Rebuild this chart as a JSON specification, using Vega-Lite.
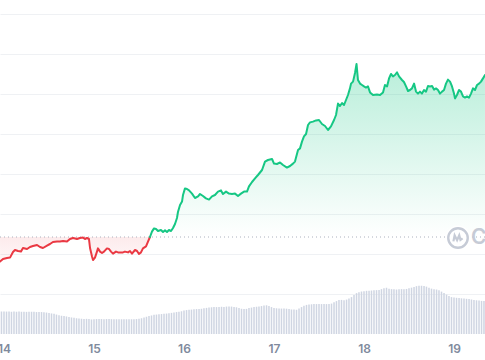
{
  "$schema": "https://vega.github.io/schema/vega-lite/v6.json",
  "width": 485,
  "height": 334,
  "autosize": {"type": "none"},
  "padding": {"left": 0, "right": 0, "top": 0, "bottom": 26},
  "background": "#ffffff",
  "config": {"view": {"stroke": null}},
  "datasets": {
    "price": [
      {"d":13.956,"p":1.81,"s":"down"},{"d":13.989,"p":1.875,"s":"down"},{"d":14.033,"p":1.90,"s":"down"},{"d":14.067,"p":1.91,"s":"down"},
      {"d":14.100,"p":2.05,"s":"down"},{"d":14.122,"p":2.10,"s":"down"},{"d":14.156,"p":2.075,"s":"down"},{"d":14.189,"p":2.06,"s":"down"},
      {"d":14.211,"p":2.15,"s":"down"},{"d":14.256,"p":2.125,"s":"down"},{"d":14.289,"p":2.175,"s":"down"},{"d":14.322,"p":2.20,"s":"down"},
      {"d":14.367,"p":2.225,"s":"down"},{"d":14.400,"p":2.175,"s":"down"},{"d":14.433,"p":2.15,"s":"down"},{"d":14.478,"p":2.21,"s":"down"},
      {"d":14.511,"p":2.25,"s":"down"},{"d":14.544,"p":2.30,"s":"down"},{"d":14.589,"p":2.31,"s":"down"},{"d":14.622,"p":2.31,"s":"down"},
      {"d":14.656,"p":2.325,"s":"down"},{"d":14.700,"p":2.31,"s":"down"},{"d":14.733,"p":2.375,"s":"down"},{"d":14.767,"p":2.40,"s":"down"},
      {"d":14.811,"p":2.375,"s":"down"},{"d":14.844,"p":2.40,"s":"down"},{"d":14.878,"p":2.41,"s":"down"},{"d":14.900,"p":2.375,"s":"down"},
      {"d":14.922,"p":2.40,"s":"down"},{"d":14.944,"p":2.375,"s":"down"},{"d":14.956,"p":2.15,"s":"down"},{"d":14.978,"p":1.94,"s":"down"},
      {"d":14.989,"p":1.85,"s":"down"},{"d":15.011,"p":1.91,"s":"down"},{"d":15.033,"p":2.06,"s":"down"},{"d":15.044,"p":2.14,"s":"down"},
      {"d":15.067,"p":2.06,"s":"down"},{"d":15.089,"p":2.025,"s":"down"},{"d":15.111,"p":2.06,"s":"down"},{"d":15.144,"p":2.14,"s":"down"},
      {"d":15.167,"p":2.125,"s":"down"},{"d":15.189,"p":2.06,"s":"down"},{"d":15.211,"p":2.01,"s":"down"},{"d":15.244,"p":2.06,"s":"down"},
      {"d":15.267,"p":2.04,"s":"down"},{"d":15.300,"p":2.04,"s":"down"},{"d":15.322,"p":2.04,"s":"down"},{"d":15.344,"p":2.06,"s":"down"},
      {"d":15.378,"p":2.04,"s":"down"},{"d":15.400,"p":2.075,"s":"down"},{"d":15.422,"p":2.01,"s":"down"},{"d":15.456,"p":2.10,"s":"down"},
      {"d":15.478,"p":2.075,"s":"down"},{"d":15.500,"p":2.00,"s":"down"},{"d":15.522,"p":2.04,"s":"down"},{"d":15.544,"p":2.14,"s":"down"},
      {"d":15.578,"p":2.19,"s":"down"},{"d":15.600,"p":2.31,"s":"down"},{"d":15.622,"p":2.425,"s":"down"},
      {"d":15.622,"p":2.425,"s":"up"},{"d":15.644,"p":2.56,"s":"up"},{"d":15.667,"p":2.64,"s":"up"},{"d":15.689,"p":2.625,"s":"up"},
      {"d":15.711,"p":2.575,"s":"up"},{"d":15.744,"p":2.60,"s":"up"},{"d":15.767,"p":2.55,"s":"up"},{"d":15.789,"p":2.59,"s":"up"},
      {"d":15.811,"p":2.55,"s":"up"},{"d":15.833,"p":2.60,"s":"up"},{"d":15.856,"p":2.575,"s":"up"},{"d":15.878,"p":2.65,"s":"up"},
      {"d":15.900,"p":2.75,"s":"up"},{"d":15.922,"p":2.90,"s":"up"},{"d":15.933,"p":3.05,"s":"up"},{"d":15.956,"p":3.225,"s":"up"},
      {"d":15.978,"p":3.31,"s":"up"},{"d":15.989,"p":3.475,"s":"up"},{"d":16.011,"p":3.64,"s":"up"},{"d":16.033,"p":3.625,"s":"up"},
      {"d":16.056,"p":3.59,"s":"up"},{"d":16.089,"p":3.51,"s":"up"},{"d":16.122,"p":3.40,"s":"up"},{"d":16.156,"p":3.44,"s":"up"},
      {"d":16.178,"p":3.50,"s":"up"},{"d":16.211,"p":3.45,"s":"up"},{"d":16.244,"p":3.39,"s":"up"},{"d":16.278,"p":3.36,"s":"up"},
      {"d":16.311,"p":3.44,"s":"up"},{"d":16.344,"p":3.475,"s":"up"},{"d":16.378,"p":3.56,"s":"up"},{"d":16.411,"p":3.59,"s":"up"},
      {"d":16.433,"p":3.50,"s":"up"},{"d":16.467,"p":3.56,"s":"up"},{"d":16.500,"p":3.51,"s":"up"},{"d":16.533,"p":3.50,"s":"up"},
      {"d":16.567,"p":3.51,"s":"up"},{"d":16.600,"p":3.45,"s":"up"},{"d":16.633,"p":3.51,"s":"up"},{"d":16.667,"p":3.56,"s":"up"},
      {"d":16.700,"p":3.56,"s":"up"},{"d":16.722,"p":3.69,"s":"up"},{"d":16.756,"p":3.80,"s":"up"},{"d":16.789,"p":3.89,"s":"up"},
      {"d":16.822,"p":3.975,"s":"up"},{"d":16.867,"p":4.10,"s":"up"},{"d":16.900,"p":4.31,"s":"up"},{"d":16.933,"p":4.35,"s":"up"},
      {"d":16.978,"p":4.375,"s":"up"},{"d":17.000,"p":4.26,"s":"up"},{"d":17.033,"p":4.25,"s":"up"},{"d":17.067,"p":4.29,"s":"up"},
      {"d":17.100,"p":4.225,"s":"up"},{"d":17.144,"p":4.16,"s":"up"},{"d":17.178,"p":4.20,"s":"up"},{"d":17.211,"p":4.26,"s":"up"},
      {"d":17.233,"p":4.31,"s":"up"},{"d":17.267,"p":4.60,"s":"up"},{"d":17.289,"p":4.64,"s":"up"},{"d":17.311,"p":4.81,"s":"up"},
      {"d":17.333,"p":4.94,"s":"up"},{"d":17.356,"p":5.00,"s":"up"},{"d":17.378,"p":5.225,"s":"up"},{"d":17.400,"p":5.29,"s":"up"},
      {"d":17.433,"p":5.31,"s":"up"},{"d":17.467,"p":5.34,"s":"up"},{"d":17.500,"p":5.35,"s":"up"},{"d":17.533,"p":5.25,"s":"up"},
      {"d":17.567,"p":5.20,"s":"up"},{"d":17.600,"p":5.10,"s":"up"},{"d":17.633,"p":5.19,"s":"up"},{"d":17.667,"p":5.35,"s":"up"},
      {"d":17.689,"p":5.475,"s":"up"},{"d":17.711,"p":5.76,"s":"up"},{"d":17.733,"p":5.70,"s":"up"},{"d":17.756,"p":5.775,"s":"up"},
      {"d":17.778,"p":5.725,"s":"up"},{"d":17.800,"p":5.85,"s":"up"},{"d":17.822,"p":5.975,"s":"up"},{"d":17.844,"p":6.14,"s":"up"},
      {"d":17.856,"p":6.26,"s":"up"},{"d":17.878,"p":6.31,"s":"up"},{"d":17.900,"p":6.525,"s":"up"},{"d":17.917,"p":6.75,"s":"up"},
      {"d":17.933,"p":6.35,"s":"up"},{"d":17.956,"p":6.26,"s":"up"},{"d":17.978,"p":6.225,"s":"up"},{"d":18.000,"p":6.19,"s":"up"},
      {"d":18.022,"p":6.16,"s":"up"},{"d":18.044,"p":6.19,"s":"up"},{"d":18.067,"p":6.04,"s":"up"},{"d":18.100,"p":5.975,"s":"up"},
      {"d":18.144,"p":5.99,"s":"up"},{"d":18.178,"p":5.975,"s":"up"},{"d":18.211,"p":6.04,"s":"up"},{"d":18.233,"p":6.225,"s":"up"},
      {"d":18.256,"p":6.19,"s":"up"},{"d":18.278,"p":6.39,"s":"up"},{"d":18.300,"p":6.50,"s":"up"},{"d":18.322,"p":6.44,"s":"up"},
      {"d":18.344,"p":6.475,"s":"up"},{"d":18.367,"p":6.54,"s":"up"},{"d":18.389,"p":6.44,"s":"up"},{"d":18.422,"p":6.35,"s":"up"},
      {"d":18.444,"p":6.30,"s":"up"},{"d":18.467,"p":6.19,"s":"up"},{"d":18.489,"p":6.075,"s":"up"},{"d":18.511,"p":6.10,"s":"up"},
      {"d":18.533,"p":6.14,"s":"up"},{"d":18.556,"p":6.26,"s":"up"},{"d":18.578,"p":6.06,"s":"up"},{"d":18.600,"p":6.01,"s":"up"},
      {"d":18.622,"p":6.06,"s":"up"},{"d":18.644,"p":6.01,"s":"up"},{"d":18.667,"p":6.10,"s":"up"},{"d":18.689,"p":6.06,"s":"up"},
      {"d":18.711,"p":6.20,"s":"up"},{"d":18.733,"p":6.19,"s":"up"},{"d":18.756,"p":6.20,"s":"up"},{"d":18.778,"p":6.11,"s":"up"},
      {"d":18.800,"p":6.14,"s":"up"},{"d":18.822,"p":6.10,"s":"up"},{"d":18.844,"p":6.01,"s":"up"},{"d":18.867,"p":6.06,"s":"up"},
      {"d":18.889,"p":6.10,"s":"up"},{"d":18.911,"p":6.26,"s":"up"},{"d":18.933,"p":6.36,"s":"up"},{"d":18.956,"p":6.31,"s":"up"},
      {"d":18.978,"p":6.19,"s":"up"},{"d":19.000,"p":6.01,"s":"up"},{"d":19.011,"p":5.89,"s":"up"},{"d":19.033,"p":5.975,"s":"up"},
      {"d":19.056,"p":6.10,"s":"up"},{"d":19.078,"p":6.06,"s":"up"},{"d":19.100,"p":5.94,"s":"up"},{"d":19.122,"p":5.91,"s":"up"},
      {"d":19.144,"p":5.94,"s":"up"},{"d":19.167,"p":5.91,"s":"up"},{"d":19.189,"p":6.01,"s":"up"},{"d":19.211,"p":6.14,"s":"up"},
      {"d":19.233,"p":6.10,"s":"up"},{"d":19.256,"p":6.225,"s":"up"},{"d":19.278,"p":6.26,"s":"up"},{"d":19.300,"p":6.31,"s":"up"},
      {"d":19.322,"p":6.39,"s":"up"},{"d":19.344,"p":6.475,"s":"up"}
    ],
    "volume": [
      {"d":13.972,"v":22.5},
      {"d":14.000,"v":22.5},{"d":14.028,"v":22.5},{"d":14.056,"v":22.5},{"d":14.083,"v":22.3},{"d":14.111,"v":22.5},{"d":14.139,"v":22.4},
      {"d":14.167,"v":22.5},{"d":14.194,"v":22.3},{"d":14.222,"v":22.3},{"d":14.250,"v":22.2},{"d":14.278,"v":22.3},{"d":14.306,"v":22.2},
      {"d":14.333,"v":22.2},{"d":14.361,"v":22.0},{"d":14.389,"v":22.1},{"d":14.417,"v":22.0},{"d":14.444,"v":21.8},{"d":14.472,"v":21.5},
      {"d":14.500,"v":21.0},{"d":14.528,"v":20.6},{"d":14.556,"v":20.2},{"d":14.583,"v":19.5},{"d":14.611,"v":18.8},{"d":14.639,"v":18.3},
      {"d":14.667,"v":18.0},{"d":14.694,"v":17.6},{"d":14.722,"v":17.0},{"d":14.750,"v":16.6},{"d":14.778,"v":16.2},{"d":14.806,"v":15.8},
      {"d":14.833,"v":15.5},{"d":14.861,"v":15.3},{"d":14.889,"v":15.0},{"d":14.917,"v":15.2},{"d":14.944,"v":15.0},{"d":14.972,"v":14.6},
      {"d":15.000,"v":14.8},{"d":15.028,"v":15.0},{"d":15.056,"v":15.0},{"d":15.083,"v":15.0},{"d":15.111,"v":14.9},{"d":15.139,"v":15.0},
      {"d":15.167,"v":15.0},{"d":15.194,"v":14.9},{"d":15.222,"v":14.8},{"d":15.250,"v":14.8},{"d":15.278,"v":14.7},{"d":15.306,"v":14.8},
      {"d":15.333,"v":14.7},{"d":15.361,"v":14.8},{"d":15.389,"v":14.7},{"d":15.417,"v":14.8},{"d":15.444,"v":14.9},{"d":15.472,"v":15.0},
      {"d":15.500,"v":15.3},{"d":15.528,"v":15.8},{"d":15.556,"v":16.6},{"d":15.583,"v":17.3},{"d":15.611,"v":18.0},{"d":15.639,"v":18.6},
      {"d":15.667,"v":19.2},{"d":15.694,"v":19.5},{"d":15.722,"v":19.8},{"d":15.750,"v":20.0},{"d":15.778,"v":20.3},{"d":15.806,"v":20.5},
      {"d":15.833,"v":20.8},{"d":15.861,"v":21.2},{"d":15.889,"v":21.6},{"d":15.917,"v":22.0},{"d":15.944,"v":22.4},{"d":15.972,"v":22.8},
      {"d":16.000,"v":23.5},{"d":16.028,"v":24.0},{"d":16.056,"v":24.3},{"d":16.083,"v":24.5},{"d":16.111,"v":24.8},{"d":16.139,"v":25.0},
      {"d":16.167,"v":25.1},{"d":16.194,"v":25.3},{"d":16.222,"v":25.8},{"d":16.250,"v":26.2},{"d":16.278,"v":26.5},{"d":16.306,"v":26.8},
      {"d":16.333,"v":27.0},{"d":16.361,"v":27.0},{"d":16.389,"v":27.2},{"d":16.417,"v":27.3},{"d":16.444,"v":27.2},{"d":16.472,"v":27.5},
      {"d":16.500,"v":27.6},{"d":16.528,"v":27.5},{"d":16.556,"v":27.2},{"d":16.583,"v":26.8},{"d":16.611,"v":26.0},{"d":16.639,"v":25.3},
      {"d":16.667,"v":25.0},{"d":16.694,"v":25.2},{"d":16.722,"v":26.0},{"d":16.750,"v":26.5},{"d":16.778,"v":27.0},{"d":16.806,"v":27.3},
      {"d":16.833,"v":27.6},{"d":16.861,"v":28.0},{"d":16.889,"v":28.5},{"d":16.917,"v":28.8},{"d":16.944,"v":28.2},{"d":16.972,"v":27.0},
      {"d":17.000,"v":26.0},{"d":17.028,"v":25.8},{"d":17.056,"v":25.6},{"d":17.083,"v":25.5},{"d":17.111,"v":25.5},{"d":17.139,"v":25.4},
      {"d":17.167,"v":25.0},{"d":17.194,"v":24.6},{"d":17.222,"v":24.5},{"d":17.250,"v":24.3},{"d":17.278,"v":25.5},{"d":17.306,"v":27.0},
      {"d":17.333,"v":28.3},{"d":17.361,"v":29.2},{"d":17.389,"v":29.6},{"d":17.417,"v":29.8},{"d":17.444,"v":30.0},{"d":17.472,"v":30.0},
      {"d":17.500,"v":30.0},{"d":17.528,"v":30.0},{"d":17.556,"v":30.0},{"d":17.583,"v":30.0},{"d":17.611,"v":30.0},{"d":17.639,"v":30.5},
      {"d":17.667,"v":31.8},{"d":17.694,"v":33.0},{"d":17.722,"v":34.0},{"d":17.750,"v":34.2},{"d":17.778,"v":33.8},{"d":17.806,"v":34.5},
      {"d":17.833,"v":35.5},{"d":17.861,"v":37.0},{"d":17.889,"v":39.0},{"d":17.917,"v":41.0},{"d":17.944,"v":42.0},{"d":17.972,"v":42.6},
      {"d":18.000,"v":43.0},{"d":18.028,"v":43.3},{"d":18.056,"v":43.5},{"d":18.083,"v":43.6},{"d":18.111,"v":43.8},{"d":18.139,"v":44.0},
      {"d":18.167,"v":44.2},{"d":18.194,"v":45.0},{"d":18.222,"v":46.0},{"d":18.250,"v":46.4},{"d":18.278,"v":45.5},{"d":18.306,"v":45.0},
      {"d":18.333,"v":44.8},{"d":18.361,"v":44.6},{"d":18.389,"v":44.8},{"d":18.417,"v":45.0},{"d":18.444,"v":45.0},{"d":18.472,"v":45.2},
      {"d":18.500,"v":45.8},{"d":18.528,"v":46.5},{"d":18.556,"v":47.2},{"d":18.583,"v":48.0},{"d":18.611,"v":48.3},{"d":18.639,"v":48.4},
      {"d":18.667,"v":48.2},{"d":18.694,"v":47.5},{"d":18.722,"v":46.5},{"d":18.750,"v":45.5},{"d":18.778,"v":45.0},{"d":18.806,"v":44.6},
      {"d":18.833,"v":43.8},{"d":18.861,"v":42.5},{"d":18.889,"v":41.0},{"d":18.917,"v":39.5},{"d":18.944,"v":38.0},{"d":18.972,"v":37.0},
      {"d":19.000,"v":36.5},{"d":19.028,"v":36.3},{"d":19.056,"v":36.0},{"d":19.083,"v":35.8},{"d":19.111,"v":35.6},{"d":19.139,"v":35.3},
      {"d":19.167,"v":35.0},{"d":19.194,"v":34.6},{"d":19.222,"v":34.2},{"d":19.250,"v":33.8},{"d":19.278,"v":33.5},{"d":19.306,"v":33.2},
      {"d":19.333,"v":33.0}
    ]
  },
  "resolve": {"scale": {"y": "independent"}},
  "layer": [
    {
      "data": {"name": "volume"},
      "mark": {"type": "bar", "size": 1.5, "color": "#cfd5e2"},
      "encoding": {
        "x": {"field": "d", "type": "quantitative", "scale": {"domain": [13.9556, 19.3444], "nice": false, "zero": false, "padding": 0},
              "axis": {"values": [14, 15, 16, 17, 18, 19], "format": "d", "title": null, "grid": false, "domain": false, "ticks": false,
                       "labelPadding": 9, "labelFont": "Inter", "labelFontSize": 12, "labelFontWeight": 600, "labelColor": "#808a9d",
                       "labelFlush": false, "labelOverlap": false}},
        "y": {"field": "v", "type": "quantitative", "scale": {"domain": [0, 335], "nice": false}, "axis": null}
      }
    },
    {
      "layer": [
        {
          "data": {"name": "price"},
          "mark": {"type": "rule", "opacity": 0},
          "encoding": {
            "y": {"field": "p", "type": "quantitative", "scale": {"domain": [0, 8.35], "nice": false, "zero": false},
                  "axis": {"values": [1, 2, 3, 4, 5, 6, 7, 8], "labels": false, "ticks": false, "domain": false, "title": null,
                           "grid": true, "gridColor": "#eff1f4", "gridWidth": 1}}
          }
        },
        {
          "data": {"name": "price"},
          "transform": [{"filter": "datum.s === 'up'"}],
          "mark": {"type": "area", "color": {"gradient": "linear", "x1": 0, "y1": 0, "x2": 0, "y2": 1,
                   "stops": [{"offset": 0, "color": "rgba(22,199,132,0.30)"}, {"offset": 1, "color": "rgba(22,199,132,0)"}]}},
          "encoding": {
            "x": {"field": "d", "type": "quantitative"},
            "y": {"field": "p", "type": "quantitative"},
            "y2": {"datum": 2.425}
          }
        },
        {
          "data": {"name": "price"},
          "transform": [{"filter": "datum.s === 'down'"}],
          "mark": {"type": "area", "color": {"gradient": "linear", "x1": 0, "y1": 0, "x2": 0, "y2": 1,
                   "stops": [{"offset": 0, "color": "rgba(234,57,67,0.10)"}, {"offset": 1, "color": "rgba(234,57,67,0.04)"}]}},
          "encoding": {
            "x": {"field": "d", "type": "quantitative"},
            "y": {"field": "p", "type": "quantitative"},
            "y2": {"datum": 2.425}
          }
        },
        {
          "data": {"values": [{}]},
          "mark": {"type": "rule", "color": "#aab1bd", "strokeDash": [1, 3], "strokeWidth": 1},
          "encoding": {"y": {"datum": 2.425, "type": "quantitative"}}
        },
        {
          "data": {"name": "price"},
          "mark": {"type": "line", "strokeWidth": 2, "strokeJoin": "round", "strokeCap": "round"},
          "encoding": {
            "x": {"field": "d", "type": "quantitative"},
            "y": {"field": "p", "type": "quantitative"},
            "color": {"field": "s", "type": "nominal", "scale": {"domain": ["down", "up"], "range": ["#ea3943", "#16c784"]}, "legend": null}
          }
        },
        {
          "data": {"values": [{}]},
          "mark": {"type": "point", "shape": "circle", "filled": true, "color": "#ffffff", "size": 620, "opacity": 1},
          "encoding": {"x": {"datum": 19.0444, "type": "quantitative"}, "y": {"datum": 2.4, "type": "quantitative"}}
        },
        {
          "data": {"values": [{}]},
          "mark": {"type": "point", "shape": "circle", "filled": false, "stroke": "#c6cbd6", "strokeWidth": 2.4, "size": 380, "opacity": 1},
          "encoding": {"x": {"datum": 19.0444, "type": "quantitative"}, "y": {"datum": 2.4, "type": "quantitative"}}
        },
        {
          "data": {"values": [{}]},
          "mark": {"type": "point", "shape": "M-0.75,0.55 L-0.55,-0.45 L-0.15,0.35 L0.2,-0.45 L0.4,0.3 L0.75,0.05", "filled": false,
                   "stroke": "#c6cbd6", "strokeWidth": 2.2, "size": 150, "opacity": 1},
          "encoding": {"x": {"datum": 19.0444, "type": "quantitative"}, "y": {"datum": 2.4, "type": "quantitative"}}
        },
        {
          "data": {"values": [{}]},
          "mark": {"type": "text", "text": "CoinMarketCap", "align": "left", "baseline": "middle", "font": "Inter", "fontSize": 21,
                   "fontWeight": 600, "color": "#c6cbd6"},
          "encoding": {"x": {"datum": 19.19, "type": "quantitative"}, "y": {"datum": 2.4, "type": "quantitative"}}
        }
      ]
    }
  ]
}
